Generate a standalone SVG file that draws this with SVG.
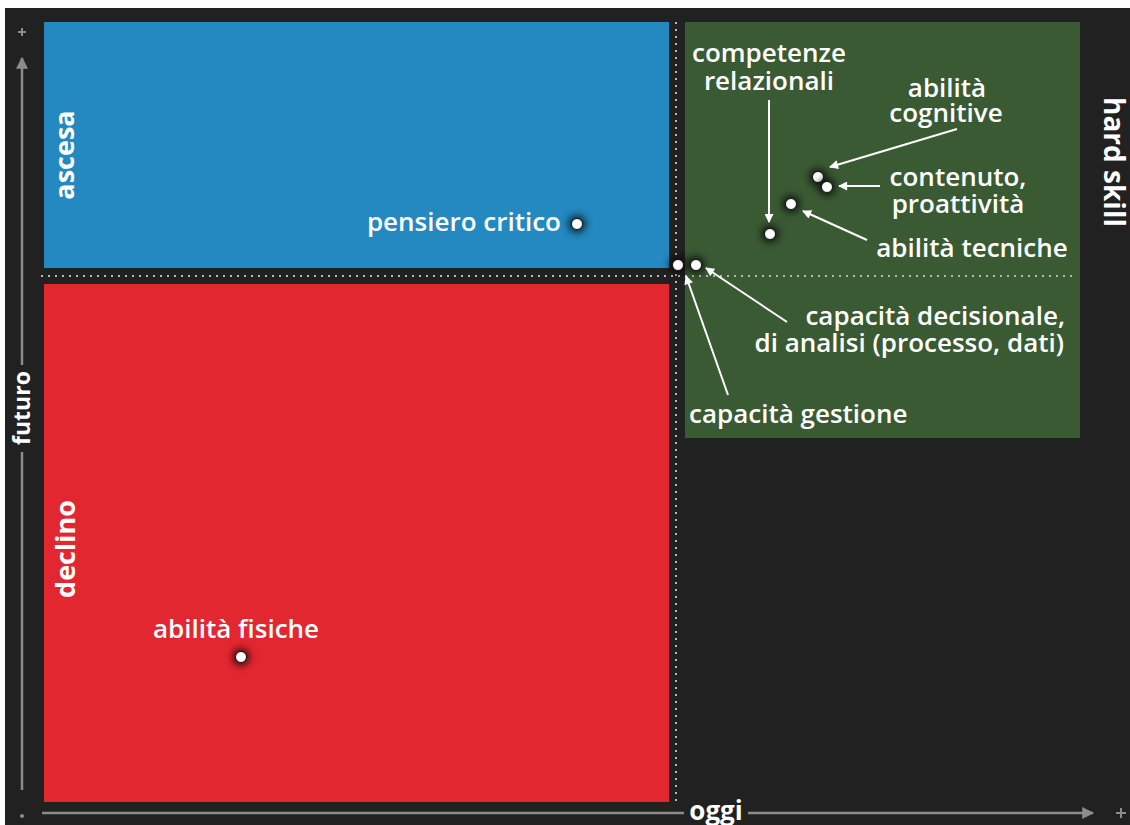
<svg xmlns="http://www.w3.org/2000/svg" width="1130" height="825" viewBox="0 0 1130 825">
  <style>
    .lbl { font-family: "Open Sans", "Liberation Sans", sans-serif; font-weight: 600; font-size: 26px; fill: #ffffff; }
    .side { font-family: "Open Sans", "Liberation Sans", sans-serif; font-weight: 700; fill: #ffffff; }
    .axis { stroke: #8c8c8c; stroke-width: 2.5; fill: none; }
    .dots { stroke: #b8b8b8; stroke-width: 2; stroke-dasharray: 2 5; fill: none; }
    .conn { stroke: #ffffff; stroke-width: 2; fill: none; marker-end: url(#ah); }
    .pt { fill: #ffffff; stroke: #111111; stroke-width: 1; }
    .glow { fill: #000000; filter: url(#blur); opacity: 0.9; }
  </style>
  <defs>
    <marker id="ah" viewBox="0 0 10 10" refX="9" refY="5" markerWidth="11" markerHeight="9" markerUnits="userSpaceOnUse" orient="auto">
      <path d="M0,0 L10,5 L0,10 z" fill="#ffffff"/>
    </marker>
    <marker id="axh" viewBox="0 0 10 10" refX="9" refY="5" markerWidth="14" markerHeight="12" markerUnits="userSpaceOnUse" orient="auto">
      <path d="M0,0 L10,5 L0,10 z" fill="#8c8c8c"/>
    </marker>
    <filter id="blur" x="-1" y="-1" width="3" height="3">
      <feGaussianBlur stdDeviation="4"/>
    </filter>
  </defs>

  <rect x="0" y="0" width="1130" height="825" fill="#ffffff"/>
  <rect x="5" y="8" width="1125" height="817" fill="#212121"/>

  <g id="quadrant-ascesa">
    <rect x="44" y="22" width="625" height="246" fill="#2389c0"/>
    <text class="side" font-size="27" transform="translate(74,155) rotate(-90)" text-anchor="middle">ascesa</text>
  </g>
  <g id="quadrant-declino">
    <rect x="44" y="284" width="625" height="518" fill="#e32731"/>
    <text class="side" font-size="27" transform="translate(75,549) rotate(-90)" text-anchor="middle">declino</text>
  </g>
  <g id="quadrant-hard-skill">
    <rect x="685" y="22" width="395" height="416" fill="#3a5a34"/>
    <text class="side" font-size="28" transform="translate(1104,162) rotate(90)" text-anchor="middle">hard skill</text>
  </g>

  <g id="dotted-guides">
    <line class="dots" x1="676" y1="22" x2="676" y2="806"/>
    <line class="dots" x1="41" y1="276" x2="1075" y2="276"/>
  </g>

  <g id="axes">
    <line class="axis" x1="22" y1="365" x2="22" y2="58" marker-end="url(#axh)"/>
    <line class="axis" x1="22" y1="452" x2="22" y2="790"/>
    <text class="side" font-size="23" fill="#ffffff" transform="translate(30,408) rotate(-90)" text-anchor="middle">futuro</text>
    <path d="M18,32 h8 M22,28 v8" stroke="#8c8c8c" stroke-width="2"/>
    <circle cx="22" cy="816" r="2" fill="#8c8c8c"/>
    <line class="axis" x1="42" y1="813" x2="684" y2="813"/>
    <line class="axis" x1="748" y1="813" x2="1093" y2="813" marker-end="url(#axh)"/>
    <text class="side" font-size="26" x="716" y="820" text-anchor="middle">oggi</text>
    <path d="M1116,813 h10 M1121,808 v10" stroke="#8c8c8c" stroke-width="2"/>
  </g>

  <g id="node-pensiero-critico">
    <circle class="glow" cx="577" cy="224" r="8"/>
    <circle class="pt" cx="577" cy="224" r="5.5"/>
    <text class="lbl" font-size="27" x="561" y="231" text-anchor="end">pensiero critico</text>
  </g>
  <g id="node-abilita-fisiche">
    <circle class="glow" cx="241" cy="657" r="8"/>
    <circle class="pt" cx="241" cy="657" r="5.5"/>
    <text class="lbl" font-size="27" x="236" y="638" text-anchor="middle">abilità fisiche</text>
  </g>
  <g id="node-competenze-relazionali">
    <circle class="glow" cx="770" cy="234" r="8"/>
    <circle class="pt" cx="770" cy="234" r="5.5"/>
    <text class="lbl" x="769" y="62" text-anchor="middle">competenze</text>
    <text class="lbl" x="769" y="90" text-anchor="middle">relazionali</text>
  </g>
  <g id="node-abilita-tecniche">
    <circle class="glow" cx="791" cy="204" r="8"/>
    <circle class="pt" cx="791" cy="204" r="5.5"/>
    <text class="lbl" x="972" y="257" text-anchor="middle">abilità tecniche</text>
  </g>
  <g id="node-abilita-cognitive">
    <circle class="glow" cx="818" cy="177" r="8"/>
    <circle class="pt" cx="818" cy="177" r="5.5"/>
    <text class="lbl" x="947" y="97" text-anchor="middle">abilità</text>
    <text class="lbl" x="946" y="122" text-anchor="middle">cognitive</text>
  </g>
  <g id="node-contenuto-proattivita">
    <circle class="glow" cx="827" cy="187" r="8"/>
    <circle class="pt" cx="827" cy="187" r="5.5"/>
    <text class="lbl" x="958" y="186" text-anchor="middle">contenuto,</text>
    <text class="lbl" x="958" y="213" text-anchor="middle">proattività</text>
  </g>
  <g id="node-capacita-gestione">
    <circle class="glow" cx="678" cy="265" r="8"/>
    <circle class="pt" cx="678" cy="265" r="5.5"/>
    <text class="lbl" x="689" y="423">capacità gestione</text>
  </g>
  <g id="node-capacita-decisionale">
    <circle class="glow" cx="696" cy="265" r="8"/>
    <circle class="pt" cx="696" cy="265" r="5.5"/>
    <text class="lbl" x="1065" y="325" text-anchor="end">capacità decisionale,</text>
    <text class="lbl" x="1064" y="352" text-anchor="end">di analisi (processo, dati)</text>
  </g>

  <g id="connectors">
    <line class="conn" x1="769" y1="100" x2="769" y2="222"/>
    <line class="conn" x1="957" y1="129" x2="830" y2="167"/>
    <line class="conn" x1="880" y1="186" x2="839" y2="186"/>
    <line class="conn" x1="867" y1="240" x2="803" y2="211"/>
    <line class="conn" x1="787" y1="322" x2="706" y2="268"/>
    <line class="conn" x1="728" y1="395" x2="686" y2="276"/>
  </g>
</svg>
